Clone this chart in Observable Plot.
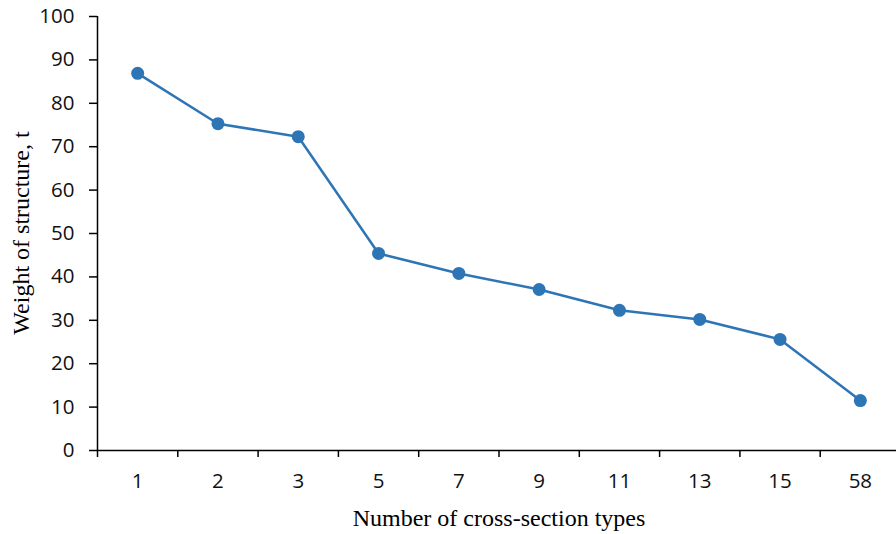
<!DOCTYPE html>
<html>
<head>
<meta charset="utf-8">
<script src="https://cdn.jsdelivr.net/npm/d3@7"></script>
<script src="https://cdn.jsdelivr.net/npm/@observablehq/plot@0.6"></script>
<style>
  html, body { margin: 0; padding: 0; background: #fff; }
  #chart svg { display: block; }
</style>
</head>
<body>
<div id="chart"></div>
<script>
const categories = ["1", "2", "3", "5", "7", "9", "11", "13", "15", "58"];
const weights = [86.9, 75.3, 72.3, 45.4, 40.8, 37.1, 32.3, 30.2, 25.6, 11.5];
const yTicks = [0, 10, 20, 30, 40, 50, 60, 70, 80, 90, 100];

const data = categories.map((c, i) => ({pos: i + 0.5, cat: c, w: weights[i]}));
const blue = "#2E75B6";
const tickFont = "'Open Sans', sans-serif";
const titleFont = "'Liberation Serif', 'Times New Roman', serif";

const chart = Plot.plot({
  width: 896,
  height: 534,
  marginTop: 16,
  marginBottom: 84,
  marginLeft: 97,
  marginRight: 0,
  style: {background: "#fff", color: "#000"},
  x: {domain: [0, categories.length], range: [97, 900]},
  y: {domain: [0, 100], range: [450, 16]},
  marks: [
    Plot.axisY({ticks: yTicks, tickSize: 8, tickPadding: 15, strokeWidth: 1.5,
      fontSize: 20.5, fontFamily: tickFont, fill: "#111", label: null}),
    Plot.axisX({ticks: d3.range(0, categories.length + 1), tickFormat: () => "",
      tickSize: 7, strokeWidth: 1.5, label: null}),
    Plot.axisX({ticks: data.map(d => d.pos), tickFormat: p => categories[Math.round(p - 0.5)],
      tickSize: 0, tickPadding: 23, fontSize: 20.5, fontFamily: tickFont, fill: "#111", label: null}),
    Plot.ruleX([0], {stroke: "#000", strokeWidth: 1.5}),
    Plot.ruleY([0], {stroke: "#000", strokeWidth: 1.5}),
    Plot.line(data, {x: "pos", y: "w", stroke: blue, strokeWidth: 2.5}),
    Plot.dot(data, {x: "pos", y: "w", r: 6.5, fill: blue, stroke: "none"})
  ]
});

const svg = d3.select(chart);
svg.append("text")
  .attr("x", 499).attr("y", 526)
  .attr("text-anchor", "middle")
  .attr("font-family", titleFont)
  .attr("font-size", 24)
  .attr("fill", "#000")
  .text("Number of cross-section types");
svg.append("text")
  .attr("transform", "translate(29,233) rotate(-90)")
  .attr("text-anchor", "middle")
  .attr("font-family", titleFont)
  .attr("font-size", 24)
  .attr("fill", "#000")
  .text("Weight of structure, t");

document.getElementById("chart").appendChild(chart);
</script>
</body>
</html>
